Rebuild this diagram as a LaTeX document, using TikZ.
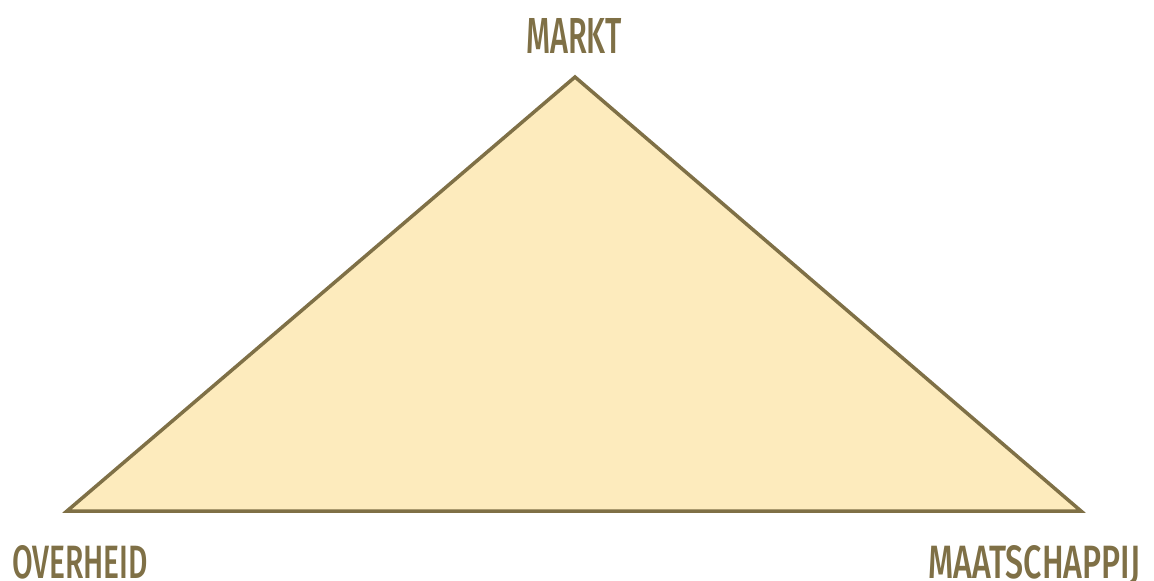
\documentclass[tikz,border=0pt]{standalone}
\usepackage{fontspec}
\setmainfont{Fira Sans}
\newfontfamily\labelfont{Fira Sans}[UprightFont=* Medium]
\usepackage{graphicx}
\definecolor{olive}{HTML}{7F7046}
\definecolor{cream}{HTML}{FDEBBD}
\newcommand{\caps}[3]{\resizebox{#1}{#2}{\raisebox{0pt}[\height][0pt]{#3}}}
\begin{document}
\begin{tikzpicture}[x=1pt,y=-1pt,
  lbl/.style={inner sep=0pt, outer sep=0pt, anchor=north west, text=olive, font=\labelfont}]
\useasboundingbox (0,0) rectangle (1154,581);
\coordinate (top) at (575,77);
\coordinate (left) at (67,511);
\coordinate (right) at (1081,511);
\draw[olive, fill=cream, line width=3.5pt, line join=miter] (left) -- (top) -- (right) -- cycle;
\node[lbl] (markt) at (526,18) {\caps{96pt}{35pt}{MARKT}};
\node[lbl] (overheid) at (12,545) {\caps{136pt}{33pt}{OVERHEID}};
\node[lbl] (maat) at (928,545) {\caps{212pt}{33pt}{MAATSCHAPPIJ}};
\end{tikzpicture}
\end{document}
